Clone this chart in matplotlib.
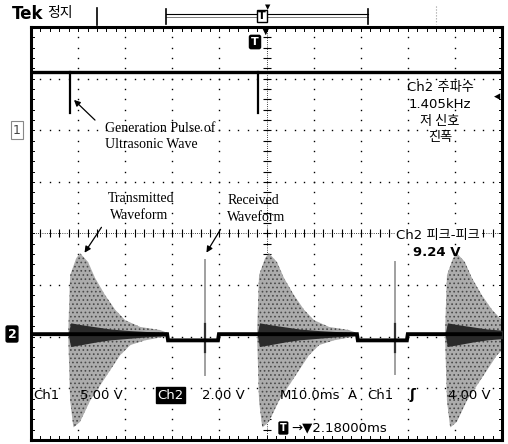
import numpy as np
import matplotlib
matplotlib.use("Agg")
import matplotlib.pyplot as plt
from matplotlib.lines import Line2D

plt.rcParams["hatch.linewidth"] = 0.7

# ---------------- data (in screen divisions: x -5..5, y -4..4) ----------------
# Ch1 trace (generation pulses)
ch1_level = 3.12
ch1_pulse_x = [-4.17, -0.18]
ch1_pulse_bottom = [2.33, 2.34]

# Ch2 baseline trace (piecewise)
ch2_x = [-5.0, -2.11, -2.09, -1.03, -1.01, 1.92, 1.94, 2.98, 3.00, 5.0]
ch2_y = [-1.95, -1.95, -2.07, -2.07, -1.95, -1.95, -2.07, -2.07, -1.95, -1.95]

# transmitted burst starts (div)
burst_starts = [-4.21, -0.20, 3.79]
# burst envelope: time since burst start (div) and offsets from baseline (div)
env_t_top = [0.0, 0.04, 0.17, 0.25, 0.42, 0.57, 0.78, 1.00, 1.21, 1.53, 1.95, 2.10]
env_top = [0.0, 1.14, 1.47, 1.57, 1.40, 1.09, 0.76, 0.47, 0.27, 0.14, 0.08, 0.03]
env_t_bot = [0.0, 0.04, 0.11, 0.25, 0.47, 0.68, 0.89, 1.10, 1.32, 1.63, 2.10]
env_bot = [0.0, -1.28, -1.81, -1.70, -1.28, -0.99, -0.70, -0.41, -0.21, -0.12, -0.04]
# dense core of the burst
core_t = [0.0, 0.05, 0.3, 0.6, 0.9, 1.3, 1.7, 2.1]
core_top = [0.0, 0.22, 0.18, 0.14, 0.10, 0.07, 0.05, 0.03]
core_bot = [0.0, -0.24, -0.20, -0.15, -0.11, -0.08, -0.05, -0.03]

# received waveform spikes
recv_x = [-1.31, 2.73]
recv_top = [-0.52, -0.55]
recv_bot = [-2.75, -2.72]

# ---------------- figure ----------------
W, H = 508, 444
fig = plt.figure(figsize=(W / 100, H / 100), dpi=100)
fig.patch.set_facecolor("white")
L, T, R, B = 31, 27, 502, 440
ax = fig.add_axes([L / W, 1 - B / H, (R - L) / W, (B - T) / H])
ax.set_xlim(-5, 5)
ax.set_ylim(-4, 4)
ax.set_xticks([])
ax.set_yticks([])
for s in ax.spines.values():
    s.set_linewidth(2.2)
    s.set_color("black")

# grid dots
fine_x = np.arange(-5, 5.001, 0.2)
fine_y = np.arange(-4, 4.001, 0.2)
for k in range(-4, 5):
    if k == 0:
        continue
    ax.plot(np.full_like(fine_y, k), fine_y, ls="none", marker="s", ms=1.0,
            color="black", mew=0)
for k in range(-3, 4):
    if k == 0:
        continue
    ax.plot(fine_x, np.full_like(fine_x, k), ls="none", marker="s", ms=1.0,
            color="black", mew=0)
# center cross with ticks
ax.plot(np.zeros_like(fine_y), fine_y, ls="none", marker="_", ms=6, mew=0.8, color="black")
ax.plot(fine_x, np.zeros_like(fine_x), ls="none", marker="|", ms=6, mew=0.8, color="black")
ax.plot(np.zeros_like(fine_y), fine_y, ls=":", lw=0.6, color="black")
ax.plot(fine_x, np.zeros_like(fine_x), ls=":", lw=0.6, color="black")
# border ticks
for xv in fine_x:
    ax.plot([xv, xv], [4, 3.93], lw=0.7, color="black")
    ax.plot([xv, xv], [-4, -3.93], lw=0.7, color="black")
for yv in fine_y:
    ax.plot([-5, -4.93], [yv, yv], lw=0.7, color="black")
    ax.plot([5, 4.93], [yv, yv], lw=0.7, color="black")

# bursts
for i, s in enumerate(burst_starts):
    tt = np.linspace(0, 2.1, 200)
    top = np.interp(tt, env_t_top, env_top) + ch2_y[0]
    bot = np.interp(tt, env_t_bot, env_bot) + ch2_y[0]
    ax.fill_between(tt + s, bot, top, facecolor="#acacac", edgecolor="#4a4a4a",
                    hatch="....", lw=0, zorder=2)
    ct = np.interp(tt, core_t, core_top) + ch2_y[0]
    cb = np.interp(tt, core_t, core_bot) + ch2_y[0]
    ax.fill_between(tt + s, cb, ct, color="#2a2a2a", lw=0, zorder=3)

# received spikes
for x, t_, b_ in zip(recv_x, recv_top, recv_bot):
    ax.plot([x, x], [b_, t_], color="#a0a0a0", lw=1.4, zorder=3)
    ax.plot([x, x], [-2.3, -1.75], color="#333333", lw=1.6, zorder=4)

# Ch2 baseline
ax.plot(ch2_x, ch2_y, color="black", lw=2.8, zorder=4, solid_joinstyle="miter")

# Ch1 trace
ax.plot([-5, 5], [ch1_level, ch1_level], color="black", lw=2.4, zorder=4)
for x, b_ in zip(ch1_pulse_x, ch1_pulse_bottom):
    ax.plot([x, x], [ch1_level, b_], color="black", lw=1.6, zorder=4)

# ---------------- texts ----------------
def px(x, y):
    return x / W, 1 - y / H

mono = ["DejaVu Sans", "Noto Sans CJK KR"]
kr = ["Noto Sans CJK KR", "DejaVu Sans"]
serif = ["Liberation Serif", "DejaVu Serif"]

fig.text(*px(12, 14), "Tek", fontsize=12, fontweight="bold", family=mono,
         ha="left", va="center")
fig.text(*px(47, 13), "정지", fontsize=10, family=kr, ha="left", va="center")

# top record bar
fig.add_artist(Line2D([97 / W, 97 / W], [1 - 8 / H, 1 - 25 / H], color="black", lw=1.2))
fig.add_artist(Line2D([166 / W, 368 / W], [1 - 14 / H, 1 - 14 / H], color="black", lw=0.8))
fig.add_artist(Line2D([166 / W, 368 / W], [1 - 17 / H, 1 - 17 / H], color="#666666", lw=0.6))
for xb in (166, 368):
    fig.add_artist(Line2D([xb / W, xb / W], [1 - 9 / H, 1 - 24 / H], color="black", lw=1.2))
fig.text(*px(262, 16), "T", fontsize=8, fontweight="bold", color="black",
         ha="center", va="center",
         bbox=dict(boxstyle="square,pad=0.1", fc="white", ec="black", lw=1.0))
fig.text(*px(268, 7), "▼", fontsize=5, ha="center", va="center")
fig.add_artist(Line2D([436 / W, 436 / W], [1 - 6 / H, 1 - 24 / H], color="#999999", lw=0.8, ls=":"))

# inside trigger markers
fig.text(*px(266, 31), "▼", fontsize=7, ha="center", va="center")
fig.text(*px(255, 42), "T", fontsize=8, fontweight="bold", color="white",
         ha="center", va="center",
         bbox=dict(boxstyle="round,pad=0.15", fc="black", ec="black"))

# channel markers
fig.text(*px(17, 130), "1", fontsize=9, color="#444444", ha="center", va="center",
         bbox=dict(boxstyle="square,pad=0.2", fc="white", ec="#888888", lw=0.8))
fig.text(*px(12, 334), "2", fontsize=9, fontweight="bold", color="white",
         ha="center", va="center",
         bbox=dict(boxstyle="round,pad=0.12", fc="black", ec="black"))
fig.text(*px(497, 97), "◂", fontsize=9, ha="center", va="center")

# right-side measurement text
fig.text(*px(440, 88), "Ch2 주파수", fontsize=9.5, family=mono, ha="center", va="center")
fig.text(*px(440, 104), "1.405kHz", fontsize=9.5, family=mono, ha="center", va="center")
fig.text(*px(440, 121), "저 신호", fontsize=9.5, family=kr, ha="center", va="center")
fig.text(*px(440, 138), "진폭", fontsize=9.5, family=kr, ha="center", va="center")
fig.text(*px(438, 235), "Ch2 피크-피크", fontsize=9.5, family=mono, ha="center", va="center",
         bbox=dict(boxstyle="square,pad=0.05", fc="white", ec="none"))
fig.text(*px(437, 252), "9.24 V", fontsize=9.5, family=mono, fontweight="bold",
         ha="center", va="center")

# bottom status text
fs = 9.5
fig.text(*px(33, 395), "Ch1", fontsize=fs, family=mono, ha="left", va="center")
fig.text(*px(80, 395), "5.00 V", fontsize=fs, family=mono, ha="left", va="center")
fig.text(*px(157, 395), "Ch2", fontsize=fs, family=mono, color="white", ha="left", va="center",
         bbox=dict(boxstyle="square,pad=0.1", fc="black", ec="black"))
fig.text(*px(202, 395), "2.00 V", fontsize=fs, family=mono, ha="left", va="center")
fig.text(*px(280, 395), "M10.0ms", fontsize=fs, family=mono, ha="left", va="center")
fig.text(*px(348, 395), "A", fontsize=fs, family=mono, ha="left", va="center")
fig.text(*px(367, 395), "Ch1", fontsize=fs, family=mono, ha="left", va="center")
fig.text(*px(412, 395), "ʃ", fontsize=10, family=mono, fontweight="bold", ha="center", va="center")
fig.text(*px(448, 395), "4.00 V", fontsize=fs, family=mono, ha="left", va="center")
fig.text(*px(280, 428), "T", fontsize=7, fontweight="bold", color="white", ha="left", va="center",
         bbox=dict(boxstyle="round,pad=0.1", fc="black", ec="black"))
fig.text(*px(291, 428), "→▼2.18000ms", fontsize=fs, family=mono, ha="left", va="center")

# annotations (serif)
sf = 10
fig.text(*px(105, 128), "Generation Pulse of", fontsize=sf, family=serif, ha="left", va="center")
fig.text(*px(105, 145), "Ultrasonic Wave", fontsize=sf, family=serif, ha="left", va="center")
fig.text(*px(141, 198), "Transmitted", fontsize=sf, family=serif, ha="center", va="center")
fig.text(*px(139, 215), "Waveform", fontsize=sf, family=serif, ha="center", va="center")
fig.text(*px(253, 200), "Received", fontsize=sf, family=serif, ha="center", va="center")
fig.text(*px(256, 217), "Waveform", fontsize=sf, family=serif, ha="center", va="center")

arrow_kw = dict(arrowstyle="-|>", color="black", lw=0.9, mutation_scale=9)
fig.patches.append(matplotlib.patches.FancyArrowPatch(
    px(97, 122), px(72, 98), transform=fig.transFigure, **arrow_kw))
fig.patches.append(matplotlib.patches.FancyArrowPatch(
    px(103, 225), px(83, 255), transform=fig.transFigure, **arrow_kw))
fig.patches.append(matplotlib.patches.FancyArrowPatch(
    px(222, 227), px(205, 255), transform=fig.transFigure, **arrow_kw))

fig.savefig("out.png", dpi=100, facecolor="white")
